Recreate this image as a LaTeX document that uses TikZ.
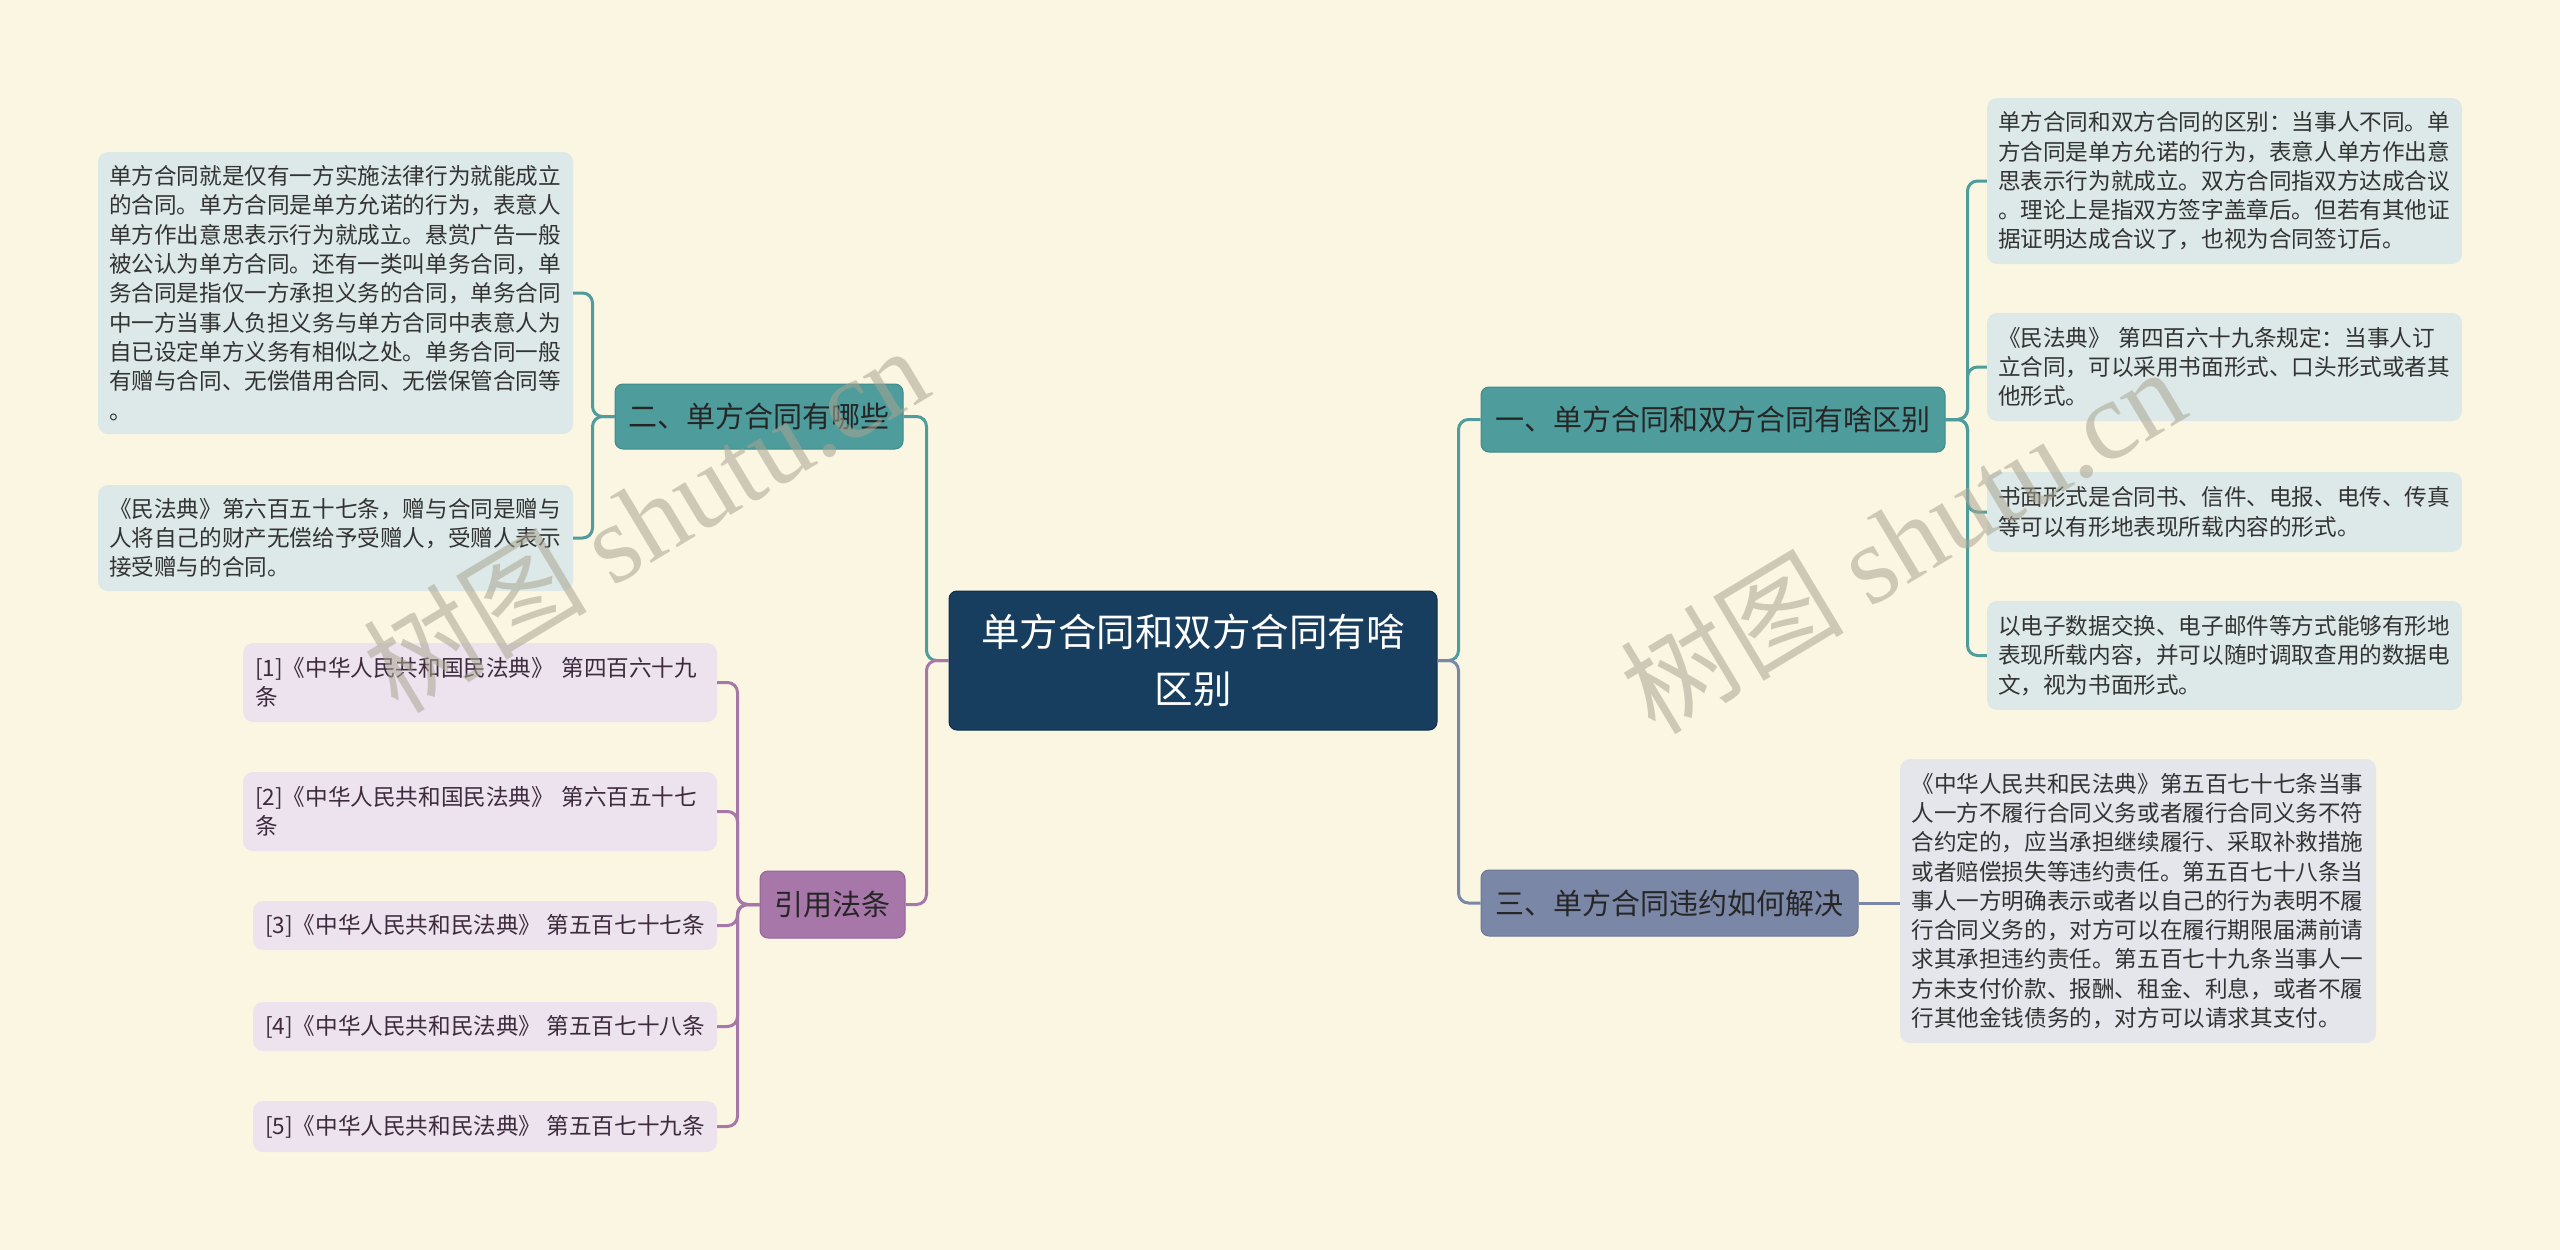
\documentclass[tikz,border=0pt]{standalone}
\usepackage{fontspec}
\setmainfont{Noto Sans CJK SC}
\newfontfamily\cjkfont{Noto Sans CJK SC}
\newfontfamily\wmserif{Liberation Serif}
\definecolor{bgc}{HTML}{FBF6E2}
\definecolor{centralc}{HTML}{173E5E}
\definecolor{centralb}{HTML}{0F2E48}
\definecolor{tealc}{HTML}{4F9C9D}
\definecolor{tealb}{HTML}{3F8A8B}
\definecolor{teallt}{HTML}{DCE9E8}
\definecolor{purc}{HTML}{A877AA}
\definecolor{purb}{HTML}{96639A}
\definecolor{purlt}{HTML}{EDE3EE}
\definecolor{slatec}{HTML}{7B87A7}
\definecolor{slateb}{HTML}{6A7696}
\definecolor{slatelt}{HTML}{E4E6EC}
\definecolor{txtd}{HTML}{333333}
\definecolor{txtp}{HTML}{3D2B3D}
\definecolor{wmc}{HTML}{A9A592}
\tikzset{
  central/.style={fill=centralc, draw=centralb, line width=1pt, rounded corners=8pt,
    inner sep=0pt, align=center, text=white, font=\fontsize{38.5}{57}\selectfont},
  branch/.style={fill=#1c, draw=#1b, line width=1pt, rounded corners=8pt, inner sep=0pt,
    align=center, text=black!85, font=\fontsize{29}{36}\selectfont},
  leaf/.style={fill=#1, draw=none, rounded corners=10pt, inner sep=0pt, align=left,
    text=txtd, font=\fontsize{22.6}{29.3}\selectfont},
  conn/.style={draw=#1, line width=3pt, rounded corners=10pt},
  wm/.style={text=wmc, opacity=0.55, rotate=31, font=\fontsize{112}{112}\selectfont}
}
\begin{document}
\begin{tikzpicture}[x=1pt,y=-1pt]
\useasboundingbox (0,0) rectangle (2560,1250);
\fill[bgc] (0,0) rectangle (2560,1250);

% central
\node[central, minimum width=488, minimum height=139] (C) at (1193,660.5)
  {单方合同和双方合同有啥\\区别};

% branches
\node[branch=teal, minimum width=464, minimum height=65] (B1) at (1713,419.5)
  {一、单方合同和双方合同有啥区别};
\node[branch=teal, minimum width=288, minimum height=65] (B2) at (759,416.5)
  {二、单方合同有哪些};
\node[branch=pur, minimum width=145, minimum height=67] (B3) at (832.5,904.5)
  {引用法条};
\node[branch=slate, minimum width=377, minimum height=66] (B4) at (1669.5,903)
  {三、单方合同违约如何解决};

% left leaves (二)
\node[leaf=teallt, minimum width=475, minimum height=282, text width=453] (L1) at (335.5,293)
  {单方合同就是仅有一方实施法律行为就能成立\\
   的合同。单方合同是单方允诺的行为，表意人\\
   单方作出意思表示行为就成立。悬赏广告一般\\
   被公认为单方合同。还有一类叫单务合同，单\\
   务合同是指仅一方承担义务的合同，单务合同\\
   中一方当事人负担义务与单方合同中表意人为\\
   自已设定单方义务有相似之处。单务合同一般\\
   有赠与合同、无偿借用合同、无偿保管合同等\\
   。};
\node[leaf=teallt, minimum width=475, minimum height=106, text width=453] (L2) at (335.5,538)
  {《民法典》第六百五十七条，赠与合同是赠与\\
   人将自己的财产无偿给予受赠人，受赠人表示\\
   接受赠与的合同。};

% right leaves (一)
\node[leaf=teallt, minimum width=475, minimum height=166, text width=453] (R1) at (2224.5,181)
  {单方合同和双方合同的区别：当事人不同。单\\
   方合同是单方允诺的行为，表意人单方作出意\\
   思表示行为就成立。双方合同指双方达成合议\\
   。理论上是指双方签字盖章后。但若有其他证\\
   据证明达成合议了，也视为合同签订后。};
\node[leaf=teallt, minimum width=475, minimum height=108, text width=453] (R2) at (2224.5,367)
  {《民法典》 第四百六十九条规定：当事人订\\
   立合同，可以采用书面形式、口头形式或者其\\
   他形式。};
\node[leaf=teallt, minimum width=475, minimum height=80, text width=453] (R3) at (2224.5,512)
  {书面形式是合同书、信件、电报、电传、传真\\
   等可以有形地表现所载内容的形式。};
\node[leaf=teallt, minimum width=475, minimum height=109, text width=453] (R4) at (2224.5,655.5)
  {以电子数据交换、电子邮件等方式能够有形地\\
   表现所载内容，并可以随时调取查用的数据电\\
   文，视为书面形式。};

% 三 leaf
\node[leaf=slatelt, minimum width=476, minimum height=284, text width=453] (S1) at (2138,901)
  {《中华人民共和民法典》第五百七十七条当事\\
   人一方不履行合同义务或者履行合同义务不符\\
   合约定的，应当承担继续履行、采取补救措施\\
   或者赔偿损失等违约责任。第五百七十八条当\\
   事人一方明确表示或者以自己的行为表明不履\\
   行合同义务的，对方可以在履行期限届满前请\\
   求其承担违约责任。第五百七十九条当事人一\\
   方未支付价款、报酬、租金、利息，或者不履\\
   行其他金钱债务的，对方可以请求其支付。};

% references
\node[leaf=purlt, text=txtp, minimum width=474, minimum height=79, text width=450] (F1) at (480,682.5)
  {[1]《中华人民共和国民法典》 第四百六十九\\条};
\node[leaf=purlt, text=txtp, minimum width=474, minimum height=79, text width=450] (F2) at (480,811.5)
  {[2]《中华人民共和国民法典》 第六百五十七\\条};
\node[leaf=purlt, text=txtp, minimum width=464, minimum height=49] (F3) at (485,925.5)
  {[3]《中华人民共和民法典》 第五百七十七条};
\node[leaf=purlt, text=txtp, minimum width=464, minimum height=49] (F4) at (485,1026.5)
  {[4]《中华人民共和民法典》 第五百七十八条};
\node[leaf=purlt, text=txtp, minimum width=464, minimum height=51] (F5) at (485,1126.5)
  {[5]《中华人民共和民法典》 第五百七十九条};

% connectors: central
\draw[conn=tealc] (C.west) -- ++(-22,0) |- (B2.east);
\draw[conn=purc] (C.west) -- ++(-22,0) |- (B3.east);
\draw[conn=tealc] (C.east) -- ++(21,0) |- (B1.west);
\draw[conn=slatec] (C.east) -- ++(21,0) |- (B4.west);

% 一 children
\foreach \n in {R1,R2,R3,R4}
  \draw[conn=tealc] (B1.east) -- ++(22,0) |- (\n.west);
% 二 children
\foreach \n in {L1,L2}
  \draw[conn=tealc] (B2.west) -- ++(-22,0) |- (\n.east);
% references
\foreach \n in {F1,F2,F3,F4,F5}
  \draw[conn=purc] (B3.west) -- ++(-22,0) |- (\n.east);
% 三 child
\draw[conn=slatec] (B4.east) -- (B4.east -| S1.west);

% watermarks
\node[wm] (W1) at (645,518) {树图 {\wmserif shutu.cn}};
\node[wm] (W2) at (1902,539) {树图 {\wmserif shutu.cn}};
\end{tikzpicture}
\end{document}
